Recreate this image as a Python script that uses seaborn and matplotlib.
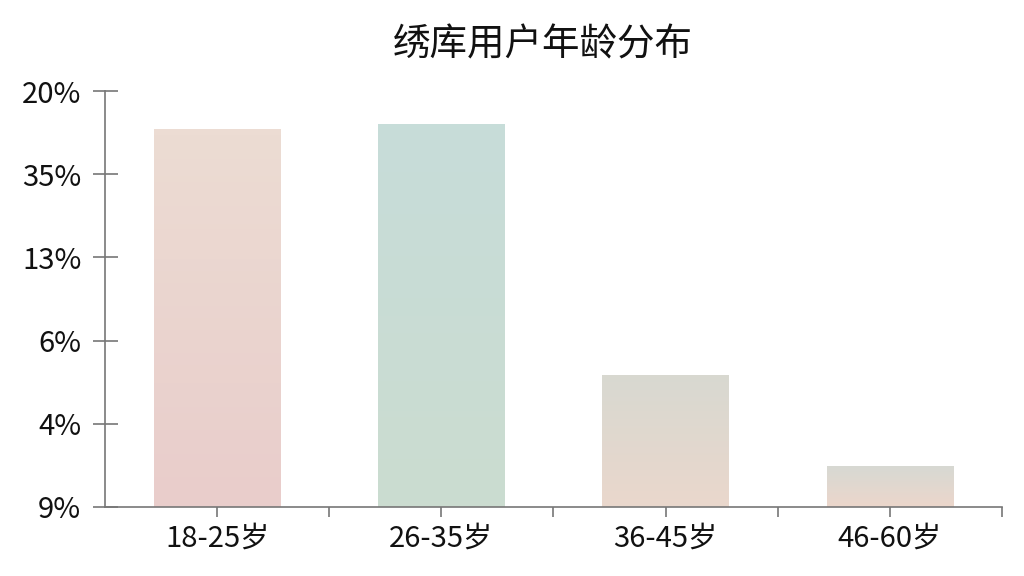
import numpy as np
import pandas as pd
import seaborn as sns
import matplotlib
matplotlib.use("Agg")
import matplotlib.pyplot as plt
from matplotlib.colors import LinearSegmentedColormap

# data (y in tick units, ticks are equally spaced)
age_groups = ["18-25岁", "26-35岁", "36-45岁", "46-60岁"]
bar_heights = [4.54, 4.60, 1.59, 0.49]
ytick_labels = ["9%", "4%", "6%", "13%", "35%", "20%"]
title = "绣库用户年龄分布"

# pastel two-tone fills (top colour, bottom colour)
bar_colors = [("#ecdcd3", "#e9cdcb"),
              ("#c7ddd9", "#cbdcd0"),
              ("#d8d9d1", "#ead7cc"),
              ("#d7d9d3", "#ecd6cb")]

sns.set_theme(style="white")
plt.rcParams['font.family'] = ['Noto Sans CJK SC', 'DejaVu Sans']

df = pd.DataFrame({"age": age_groups, "share": bar_heights})

fig = plt.figure(figsize=(10.24, 5.76), dpi=100)
fig.patch.set_facecolor("white")
ax = fig.add_axes([0.1025, 0.1198, 0.876, 0.7222])

sns.barplot(data=df, x="age", y="share", ax=ax, width=0.565,
            color=bar_colors[0][0], saturation=1, edgecolor="none")

# soft gradient inside each bar
for patch, (c_top, c_bot) in zip(ax.patches, bar_colors):
    patch.set_facecolor(c_top)
    x0, y0 = patch.get_x(), patch.get_y()
    w, h = patch.get_width(), patch.get_height()
    cmap = LinearSegmentedColormap.from_list("g", [c_bot, c_top])
    grad = np.linspace(0, 1, 64).reshape(-1, 1)
    im = ax.imshow(grad, cmap=cmap, origin="lower", aspect="auto",
                   extent=(x0, x0 + w, y0, y0 + h), zorder=patch.get_zorder())
    im.set_clip_path(patch)

ax.set_xlim(-0.5, 3.5)
ax.set_ylim(0, 5)
ax.set_yticks(range(len(ytick_labels)))
ax.set_yticklabels(ytick_labels)
ax.set_xlabel("")
ax.set_ylabel("")

ax.set_xticks([0.5, 1.5, 2.5, 3.5], minor=True)
ax.tick_params(axis="x", which="both", direction="out", length=7, width=1.2,
               color="#777777", bottom=True, labelsize=21, pad=5,
               labelcolor="#111111")
ax.tick_params(axis="y", direction="inout", length=18, width=1.2,
               color="#777777", left=True, labelsize=21, pad=8,
               labelcolor="#111111")

for s in ["top", "right"]:
    ax.spines[s].set_visible(False)
for s in ["left", "bottom"]:
    ax.spines[s].set_color("#777777")
    ax.spines[s].set_linewidth(1.2)

fig.text(0.53, 0.922, title, ha="center", va="center", fontsize=27, color="#111111")

fig.savefig("out.png", dpi=100, facecolor="white")
